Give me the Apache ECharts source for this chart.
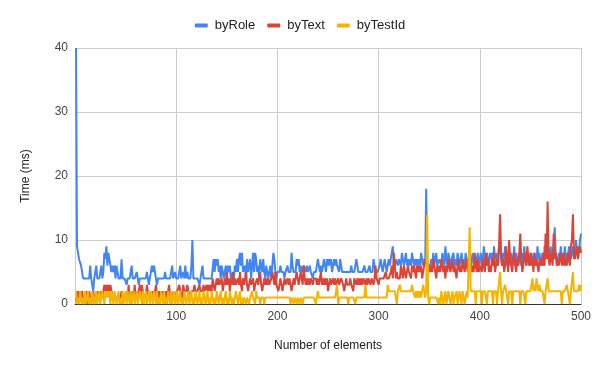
<!DOCTYPE html>
<html><head><meta charset="utf-8">
<script src="https://cdn.jsdelivr.net/npm/echarts@6/dist/echarts.min.js"></script>
<style>html,body{margin:0;padding:0;background:#fff}#c{width:600px;height:371px}</style>
</head><body><div id="c"></div>
<script>
const seriesNames = ['byRole', 'byText', 'byTestId'];
const xTickValues = [100, 200, 300, 400, 500];
const byRole = [
40,9,8,7,7,6,6,4,4,4, 4,4,4,4,6,4,4,2,4,4, 6,4,4,4,4,6,4,5,8,7, 9,6,8,7,6,5,6,5,6,4, 6,5,4,4,4,7,4,4,4,4,
3,4,4,4,4,6,4,4,4,4, 5,4,3,4,4,4,4,4,4,4, 5,4,3,4,4,6,5,6,5,4, 3,4,4,4,4,4,4,4,5,4, 4,4,4,4,4,6,4,4,5,4,
4,4,4,6,4,4,5,4,6,4, 5,4,4,4,6,10,4,4,4,4, 4,4,3,4,4,6,4,4,4,4, 4,4,4,4,4,4,7,5,7,6, 7,5,6,4,6,5,4,5,6,4,
6,5,6,4,4,5,4,6,5,7, 5,7,8,6,8,5,5,6,4,7, 5,6,7,4,6,8,5,8,7,5, 6,4,7,6,5,7,5,4,6,5, 4,5,6,4,6,8,7,5,4,5,
5,5,6,5,5,5,4,5,5,6, 5,5,5,8,6,5,5,5,7,6, 7,5,6,5,5,6,6,5,6,5, 5,6,5,5,4,5,5,5,6,7, 7,5,6,5,6,7,6,5,7,6,
7,6,7,5,6,7,6,7,6,6, 5,7,6,5,5,5,5,5,5,5, 5,5,6,5,5,5,5,7,7,5, 5,5,5,5,5,6,5,5,5,5, 6,5,5,5,7,6,5,5,5,5,
6,7,6,5,6,7,6,5,6,7, 6,7,7,9,7,6,7,7,6,7, 7,6,8,7,6,7,8,6,7,6, 7,6,8,7,6,7,6,7,6,7, 6,8,7,6,7,6,18,7,6,6,
6,7,6,8,6,7,8,6,6,7, 7,6,8,7,6,9,7,6,8,7, 6,7,7,8,6,7,6,8,7,6, 7,8,6,7,6,8,7,6,7,8, 6,7,8,6,7,6,7,8,6,7,
8,6,7,9,7,6,8,7,6,8, 7,8,6,9,7,8,6,7,9,10, 7,6,8,7,9,6,7,8,6,7, 8,6,7,9,6,8,7,6,8,7, 6,8,7,9,7,6,8,7,6,7,
8,7,6,8,7,6,9,7,8,6, 7,8,6,9,7,8,10,7,8,9, 7,8,9,12,8,7,6,8,7,9, 7,8,6,9,7,8,7,9,8,7, 8,9,7,8,10,8,9,8,10,11
];
const byText = [
1,0,2,0,1,1,2,0,1,0, 1,2,0,2,1,0,1,2,0,1, 2,1,2,1,1,2,1,2,3,2, 3,2,3,2,3,2,1,1,1,1, 1,1,1,1,1,2,1,1,1,1,
2,1,3,1,1,1,2,1,3,1, 2,1,1,3,1,3,2,1,1,1, 3,2,1,1,2,1,2,1,1,3, 1,2,1,2,1,2,1,1,1,2, 1,1,3,1,2,1,1,2,1,1,
2,2,3,2,2,1,3,2,2,2, 3,2,2,1,2,2,2,3,2,2, 2,2,3,2,2,2,3,2,2,3, 2,3,2,3,2,4,3,2,3,4, 3,4,3,3,4,2,3,4,3,5,
3,4,2,4,3,5,3,4,3,3, 4,3,5,3,2,4,3,4,5,3, 2,3,4,3,3,4,2,3,3,4, 3,4,5,3,2,3,4,3,4,3, 4,3,3,4,5,4,3,5,3,3,
2,3,4,3,2,3,4,3,3,4, 3,4,3,2,3,4,3,4,5,4, 3,4,5,4,3,6,4,3,4,3, 4,3,4,4,3,4,4,4,3,4, 3,4,5,3,4,3,4,3,4,2,
3,4,3,3,4,3,4,3,3,4, 3,3,4,4,3,2,3,4,3,3, 3,4,3,3,2,4,4,3,4,3, 4,3,4,3,4,4,3,4,3,4, 4,3,4,4,3,4,6,4,4,3,
4,4,4,4,4,4,5,4,4,4, 4,5,6,4,8,6,4,5,4,4, 4,6,5,4,6,5,4,5,6,5, 5,4,6,5,6,5,4,6,5,6, 5,6,4,5,6,7,7,6,5,6,
5,6,5,7,6,5,4,6,5,6, 5,7,6,5,6,4,6,5,7,6, 5,6,7,5,6,5,4,6,7,5, 6,5,7,6,5,6,7,5,6,5, 7,5,6,5,8,6,5,7,5,6,
6,5,7,6,5,8,6,7,5,6, 5,7,6,8,5,6,7,6,9,14, 8,6,7,5,6,9,7,5,10,7, 6,5,7,8,6,5,7,6,8,11, 7,5,6,8,7,6,9,7,6,8,
6,7,5,8,6,7,6,5,7,6, 7,6,8,6,11,7,16,7,6,8, 7,6,11,7,8,6,7,6,7,8, 6,7,8,6,7,6,8,7,6,9, 10,14,8,7,8,9,7,8,9,8
];
const byTestId = [
2,0,1,0,2,1,0,1,0,2, 0,1,2,0,1,0,2,1,0,1, 2,0,1,2,0,1,2,1,0,2, 1,2,1,2,0,2,1,0,2,1, 0,1,2,0,1,0,2,0,1,2,
0,2,1,0,2,0,1,2,0,1, 2,0,1,2,1,0,2,0,1,2, 0,1,2,0,2,1,0,2,1,0, 2,0,1,0,2,1,0,2,0,1, 0,2,1,0,2,0,1,2,0,1,
2,0,1,2,0,1,0,2,1,0, 1,2,0,1,2,0,1,0,2,1, 0,1,2,0,1,0,2,1,0,1, 2,0,1,0,2,1,0,1,0,2, 1,0,1,2,0,1,0,1,2,0,
1,0,2,1,0,1,0,1,2,1, 0,1,2,0,1,0,1,1,0,1, 1,0,1,1,2,1,1,0,2,1, 1,1,0,1,1,1,0,1,1,1, 1,1,1,1,1,1,1,1,1,1,
1,1,1,1,1,1,1,1,1,1, 1,1,0,1,1,0,1,1,0,1, 1,0,1,1,0,1,1,1,1,1, 1,1,1,1,1,1,1,0,1,2, 1,1,1,1,1,1,1,1,1,1,
1,1,1,1,1,1,1,1,3,0, 1,1,1,1,1,1,1,1,1,0, 1,1,1,1,1,1,0,1,1,1, 1,1,1,1,1,1,3,1,1,1, 1,1,1,1,1,1,1,1,1,1,
1,1,1,1,1,1,1,1,3,2, 2,2,2,2,2,2,2,0,2,2, 3,2,2,2,2,2,2,2,2,2, 2,2,3,2,2,1,2,1,2,1, 2,1,2,3,2,1,2,14,1,0,
1,1,1,1,1,1,1,1,0,1, 0,2,1,0,1,2,0,1,2,1, 0,1,2,0,1,1,2,0,1,2, 1,0,2,1,0,1,2,1,1,12, 2,2,2,2,2,0,2,2,2,2,
2,0,2,2,2,2,0,2,2,2, 2,2,0,2,2,2,0,2,2,5, 2,0,2,2,3,2,2,0,2,2, 2,0,2,2,2,2,2,2,2,0, 2,2,2,2,0,2,2,2,2,2,
3,4,2,3,2,4,3,2,3,2, 2,2,2,0,2,2,4,2,2,2, 2,2,2,2,2,2,2,2,2,2, 0,2,2,2,2,3,2,2,0,2, 2,5,2,2,2,2,2,3,2,3
];
const colors = ['#4285F4', '#DB4437', '#F4B400'];
const toPairs = arr => arr.map((v, i) => [i + 1, v]);
const font = "Arial, 'Liberation Sans', sans-serif";
const chart = echarts.init(document.getElementById('c'), null, {renderer: 'canvas'});
chart.setOption({
  animation: false,
  color: colors,
  textStyle: {fontFamily: font},
  legend: {
    top: 14, left: 'center', itemGap: 12, itemWidth: 13, itemHeight: 4, icon: 'roundRect',
    textStyle: {fontFamily: font, fontSize: 13, color: '#222', padding: [0, 0, 0, 2]},
    data: seriesNames
  },
  grid: {left: 75, right: 19, top: 48, bottom: 67},
  xAxis: {
    type: 'value', min: 0, max: 500, interval: 100,
    name: 'Number of elements', nameLocation: 'middle', nameGap: 36,
    nameTextStyle: {fontFamily: font, fontSize: 12, color: '#222'},
    axisLine: {show: true, lineStyle: {color: '#333', width: 1}},
    axisTick: {show: false},
    axisLabel: {fontFamily: font, fontSize: 12, color: '#444', margin: 7,
      formatter: v => xTickValues.includes(v) ? String(v) : ''},
    splitLine: {show: true, lineStyle: {color: '#ccc', width: 1}}
  },
  yAxis: {
    type: 'value', min: 0, max: 40, interval: 10,
    name: 'Time (ms)', nameLocation: 'middle', nameGap: 43,
    nameTextStyle: {fontFamily: font, fontSize: 12, color: '#222'},
    axisLine: {show: false}, axisTick: {show: false},
    axisLabel: {fontFamily: font, fontSize: 12, color: '#444', margin: 7},
    splitLine: {show: true, lineStyle: {color: '#ccc', width: 1}}
  },
  series: [byRole, byText, byTestId].map((d, i) => ({
    name: seriesNames[i], type: 'line', data: toPairs(d), showSymbol: false, symbol: 'none',
    lineStyle: {width: 2, color: colors[i]}, itemStyle: {color: colors[i]}
  }))
});
</script></body></html>
